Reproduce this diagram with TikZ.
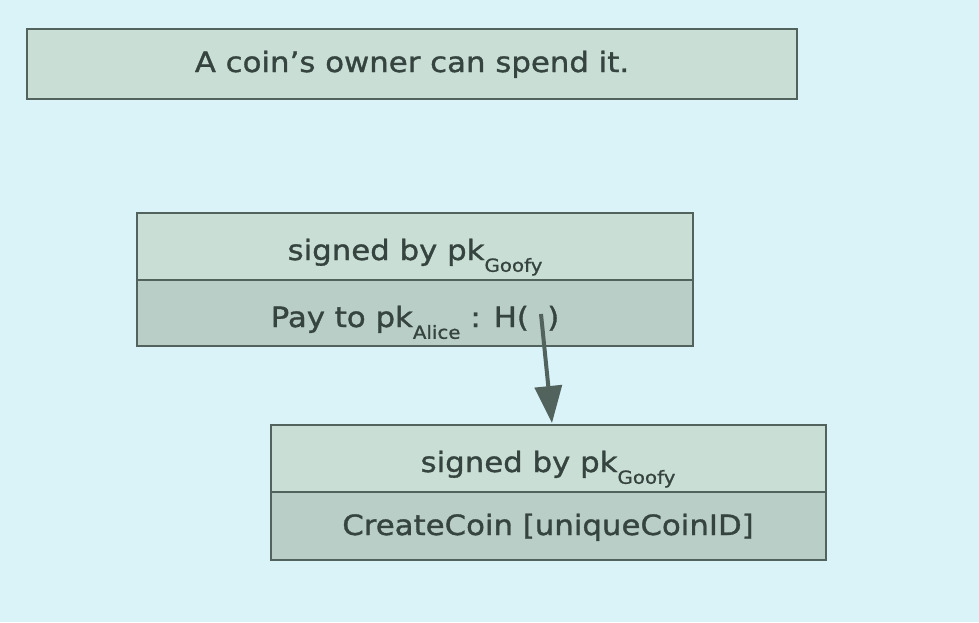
\documentclass[tikz,border=0pt]{standalone}
\usepackage{fontspec}
\setmainfont{DejaVu Sans}[FakeStretch=1.1, FakeBold=1.2]
\usetikzlibrary{arrows.meta}
\definecolor{bgc}{HTML}{D9F3F8}
\definecolor{rowa}{HTML}{C9DED5}
\definecolor{rowb}{HTML}{B9CEC6}
\definecolor{edge}{HTML}{52625C}
\definecolor{ink}{HTML}{36443F}
\newcommand{\sbs}[1]{\raisebox{-0.42em}{\fontsize{18}{18}\selectfont #1}}
\tikzset{
  rowbox/.style={draw=edge, line width=1.8pt, inner sep=0pt, outer sep=0pt},
  lbl/.style={anchor=base, text=ink, font=\fontsize{28}{30}\selectfont, inner sep=0pt},
}
\begin{document}
\begin{tikzpicture}[x=1pt,y=-1pt]
\useasboundingbox (0,0) rectangle (979,622);
\fill[bgc] (0,0) rectangle (979,622);
% top box
\draw[rowbox, fill=rowa] (27,29) rectangle (797,99);
\node[lbl] (title) at (412,72) {A coin’s owner can spend it.};
% box 1
\draw[rowbox, fill=rowa] (137,213) rectangle (693,280);
\draw[rowbox, fill=rowb] (137,280) rectangle (693,346);
\node[lbl] (s1) at (415,260) {signed by pk\sbs{Goofy}};
\node[lbl] (p1) at (415,327) {Pay to pk\sbs{Alice} : H(\phantom{i} )};
% box 2
\draw[rowbox, fill=rowa] (271,425) rectangle (826,492);
\draw[rowbox, fill=rowb] (271,492) rectangle (826,560);
\node[lbl] (s2) at (548,472) {signed by pk\sbs{Goofy}};
\node[lbl] (c2) at (548,535) {CreateCoin [uniqueCoinID]};
% arrow
\coordinate (hstart) at (541,314);
\coordinate (b2top) at (552,423);
\draw[draw=edge, line width=4pt, -{Triangle[width=27pt,length=37pt]}, fill=edge] (hstart) -- (b2top);
\end{tikzpicture}
\end{document}
